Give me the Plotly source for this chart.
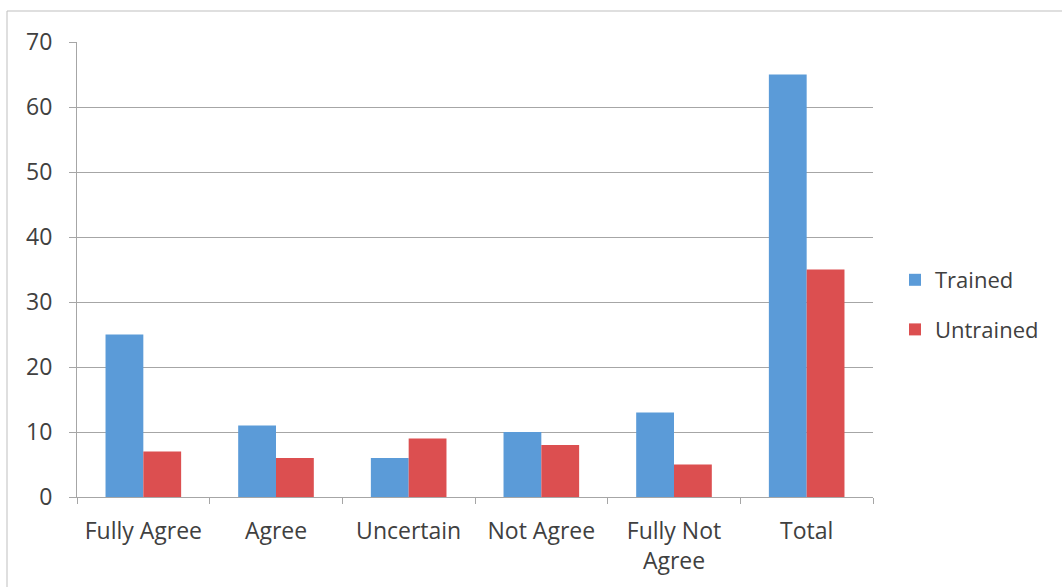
import plotly.graph_objects as go

categories = ["Fully Agree", "Agree", "Uncertain", "Not Agree", "Fully Not<br>Agree", "Total"]
trained = [25, 11, 6, 10, 13, 65]
untrained = [7, 6, 9, 8, 5, 35]
y_ticks = [0, 10, 20, 30, 40, 50, 60, 70]

FONT = "Open Sans"
TXT = "#404040"
GRID = "#A6A6A6"

fig = go.Figure()
fig.add_trace(go.Bar(name="Trained", x=categories, y=trained, legendgroup="a",
                     marker=dict(color="#5B9BD8", line=dict(width=0))))
fig.add_trace(go.Bar(name="Untrained", x=categories, y=untrained, legendgroup="b",
                     marker=dict(color="#DC4F50", line=dict(width=0))))

W, H = 1062, 587
L, R, T, B = 77, 873, 42, 497
pw, ph = R - L, B - T

fig.update_layout(
    width=W, height=H,
    margin=dict(l=L, r=W - R, t=T, b=H - B),
    paper_bgcolor="white", plot_bgcolor="white",
    barmode="group", bargap=0.43, bargroupgap=0,
    font=dict(family=FONT, size=22, color=TXT),
    showlegend=True,
    legend=dict(x=(895 - L) / pw, y=(497 - 305) / ph, xanchor="left", yanchor="middle",
                font=dict(size=22, color=TXT), tracegroupgap=18, itemwidth=30,
                bgcolor="rgba(0,0,0,0)"),
    xaxis=dict(showline=True, linecolor=GRID, linewidth=1, ticks="outside", tickson="boundaries",
               ticklen=6, tickcolor=GRID, showgrid=False, tickfont=dict(size=23, color=TXT),
               ticklabelstandoff=13),
    yaxis=dict(range=[0, 70], tickvals=y_ticks, showline=True, linecolor=GRID, linewidth=1,
               showgrid=True, gridcolor=GRID, gridwidth=1, ticks="outside", ticklen=7,
               tickcolor=GRID, zeroline=False, tickfont=dict(size=23, color=TXT), ticklabelstandoff=12),
    shapes=[
        dict(type="line", xref="paper", yref="paper", x0=(7 - L) / pw, x1=(1070 - L) / pw,
             y0=(B - 11) / ph, y1=(B - 11) / ph, line=dict(color="#BFBFBF", width=1)),
        dict(type="line", xref="paper", yref="paper", x0=(7 - L) / pw, x1=(7 - L) / pw,
             y0=(B - 11) / ph, y1=(B - 600) / ph, line=dict(color="#BFBFBF", width=1)),
    ],
)
fig.write_html("out.html")
